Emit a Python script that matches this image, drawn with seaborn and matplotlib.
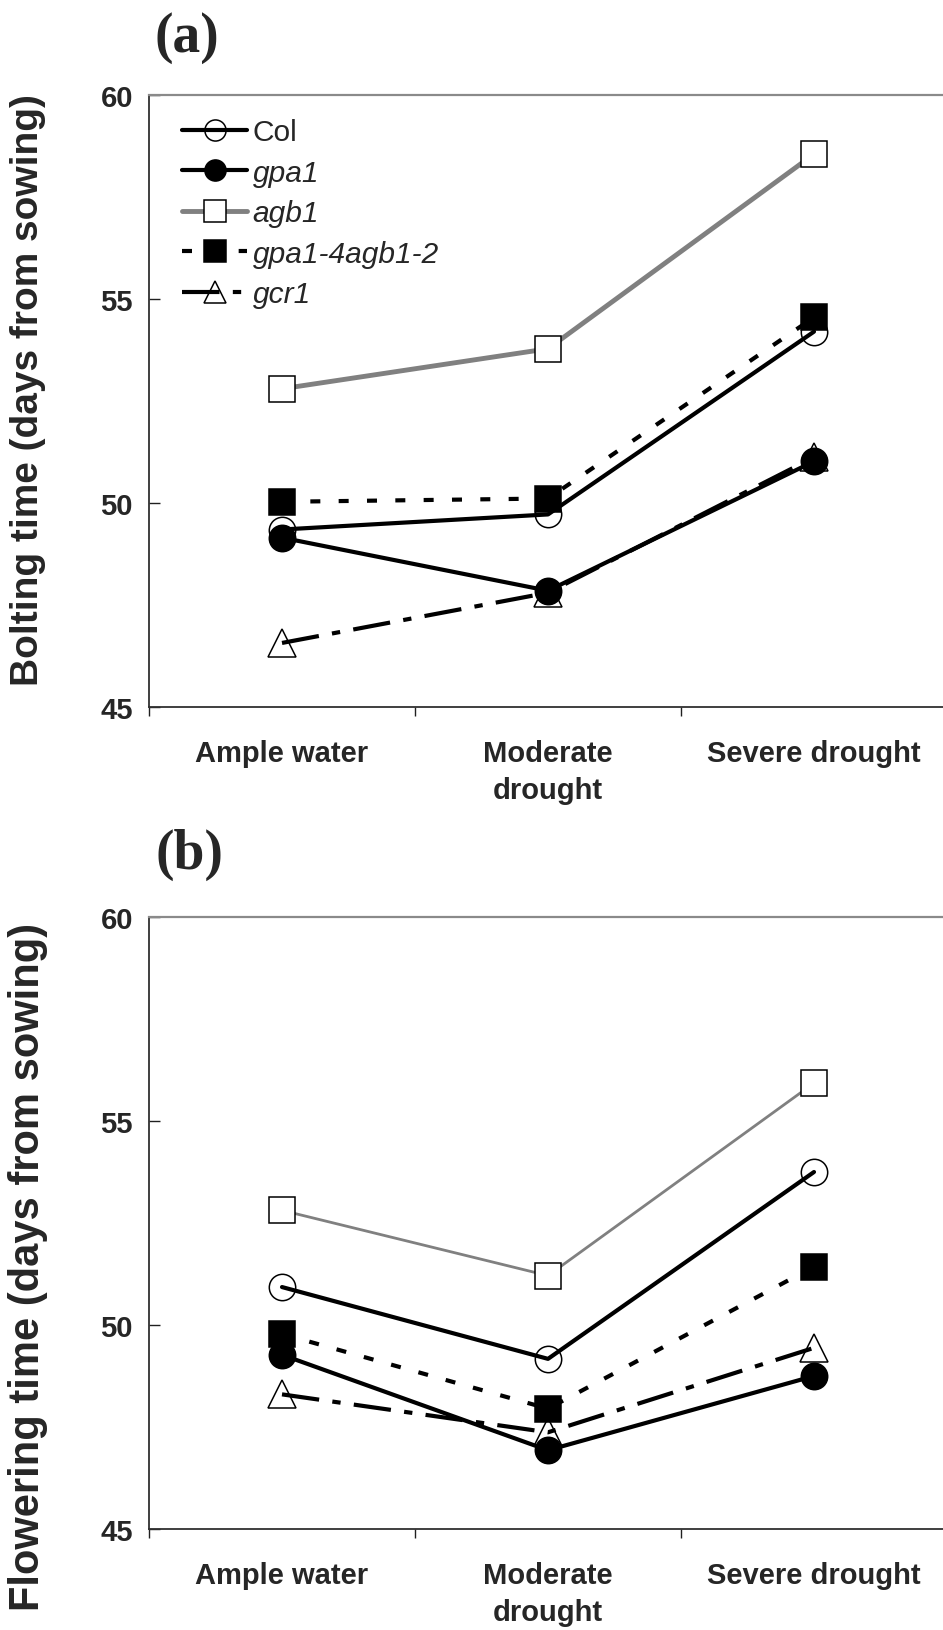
import matplotlib
matplotlib.use("Agg")
import matplotlib.pyplot as plt
import seaborn as sns
from matplotlib.ticker import FixedLocator

# ---------------- data ----------------
categories = ["Ample water", "Moderate\ndrought", "Severe drought"]
genotypes = ["Col", "gpa1", "agb1", "gpa1-4agb1-2", "gcr1"]

bolt_col = [49.35, 49.72, 54.20]
bolt_gpa1 = [49.15, 47.85, 51.02]
bolt_agb1 = [52.80, 53.78, 58.55]
bolt_dko = [50.03, 50.11, 54.55]
bolt_gcr1 = [46.57, 47.80, 51.12]

flow_col = [50.93, 49.17, 53.75]
flow_gpa1 = [49.27, 46.93, 48.75]
flow_agb1 = [52.81, 51.21, 55.93]
flow_dko = [49.78, 47.95, 51.43]
flow_gcr1 = [48.30, 47.37, 49.44]

y_ticks = [45, 50, 55, 60]
panel_labels = ["(a)", "(b)"]
y_labels = ["Bolting time (days from sowing)", "Flowering time (days from sowing)"]

# ---------------- style ----------------
sns.set_style("white")
plt.rcParams["font.family"] = ["Liberation Sans", "DejaVu Sans"]

fig = plt.figure(figsize=(9.43, 16.31), dpi=100)
W, H = 943.0, 1631.0

def axes_rect(left_px, top_px, right_px, bottom_px):
    return [left_px / W, 1 - bottom_px / H, (right_px - left_px) / W, (bottom_px - top_px) / H]

ax_a = fig.add_axes(axes_rect(149, 96, 947, 708))
ax_b = fig.add_axes(axes_rect(149, 918, 947, 1530))

def styles(black_lw, grey_lw):
    return [
        dict(color="black", lw=black_lw, ls="-", marker="o", mfc="none"),
        dict(color="black", lw=black_lw, ls="-", marker="o", mfc="black"),
        dict(color="#808080", lw=grey_lw, ls="-", marker="s", mfc="white"),
        dict(color="black", lw=black_lw, ls=(0, (2.4, 4.4)), marker="s", mfc="black"),
        dict(color="black", lw=black_lw, ls=(0, (9.0, 3.2, 2.0, 3.2)), marker="^", mfc="none"),
    ]

def draw(ax, series, black_lw, grey_lw, ylabel, ylabel_size, ylabel_x, ylabel_y, show_legend):
    for name, vals, st in zip(genotypes, series, styles(black_lw, grey_lw)):
        sns.lineplot(x=categories, y=vals, ax=ax, sort=False, errorbar=None,
                     color=st["color"], linewidth=st["lw"], linestyle=st["ls"],
                     marker=st["marker"], markersize=19 if st["marker"] != "^" else 20,
                     markerfacecolor=st["mfc"], markeredgecolor="black",
                     markeredgewidth=1.1, label=name)
    ax.set_xlim(-0.5, 2.5)
    ax.set_ylim(45, 60)
    ax.set_yticks(y_ticks)
    ax.set_yticklabels([str(t) for t in y_ticks], fontsize=21, fontweight="bold")
    ax.tick_params(axis="y", direction="in", length=8, width=1.0, color="#202020", pad=11.5, left=True)
    ax.set_xticks([0, 1, 2])
    ax.set_xticklabels(categories, fontsize=21, fontweight="bold", linespacing=1.4)
    ax.tick_params(axis="x", which="major", length=0, pad=23)
    ax.xaxis.set_minor_locator(FixedLocator([-0.5, 0.5, 1.5, 2.5]))
    ax.tick_params(axis="x", which="minor", direction="out", length=6.5, width=1.0,
                   color="#202020", bottom=True)
    for s in ["left", "bottom"]:
        ax.spines[s].set_color("#303030")
        ax.spines[s].set_linewidth(1.3)
    ax.spines["top"].set_color("#8a8a8a")
    ax.spines["top"].set_linewidth(1.6)
    ax.spines["right"].set_visible(False)
    ax.set_xlabel("")
    ax.set_ylabel(ylabel, fontsize=ylabel_size, fontweight="bold")
    ax.yaxis.set_label_coords(ylabel_x, ylabel_y)
    if show_legend:
        leg = ax.legend(loc="upper left", bbox_to_anchor=(0.041, 0.962), frameon=False,
                        fontsize=21.5, handlelength=2.2, handletextpad=0.17,
                        labelspacing=0.42, borderaxespad=0, borderpad=0, markerscale=0.8)
        for i, t in enumerate(leg.get_texts()):
            if i > 0:
                t.set_fontstyle("italic")
    else:
        lg = ax.get_legend()
        if lg is not None:
            lg.remove()

draw(ax_a, [bolt_col, bolt_gpa1, bolt_agb1, bolt_dko, bolt_gcr1], 3.0, 3.5,
     y_labels[0], 28, -0.129, 0.52, True)
draw(ax_b, [flow_col, flow_gpa1, flow_agb1, flow_dko, flow_gcr1], 3.0, 2.0,
     y_labels[1], 30, -0.126, 0.43, False)

fig.text(187 / W, 1 - 38 / H, panel_labels[0], fontsize=40, fontweight="bold",
         family=["Liberation Serif", "DejaVu Serif"], ha="center", va="center")
fig.text(189 / W, 1 - 855 / H, panel_labels[1], fontsize=40, fontweight="bold",
         family=["Liberation Serif", "DejaVu Serif"], ha="center", va="center")

fig.savefig("out.png", dpi=100)
